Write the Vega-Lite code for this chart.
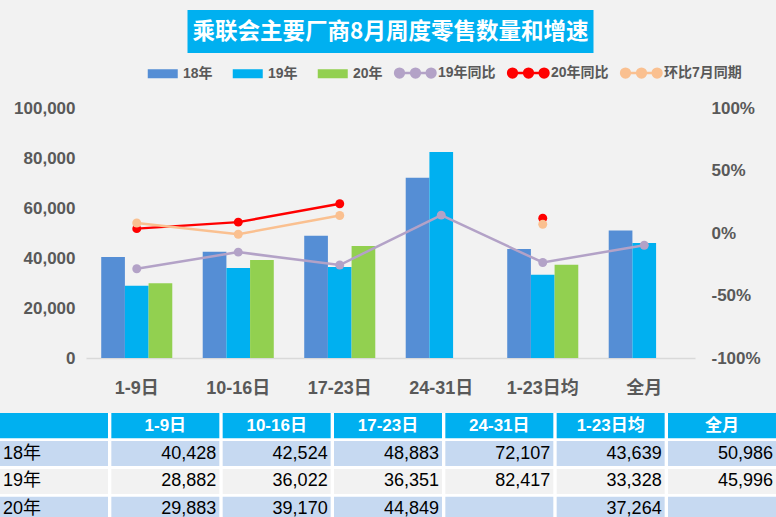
{
  "$schema": "https://vega.github.io/schema/vega-lite/v6.json",
  "background": "#f2f2f2",
  "padding": {"left": 0, "top": 10, "right": 0, "bottom": 0},
  "bounds": "flush",
  "center": true,
  "spacing": 55,
  "resolve": {"scale": {"color": "independent"}, "legend": {"color": "independent"}},
  "config": {
    "font": "Liberation Sans, Noto Sans CJK SC",
    "view": {"stroke": null},
    "axis": {
      "labelFont": "Liberation Sans, Noto Sans CJK SC",
      "labelColor": "#595959",
      "labelFontWeight": "bold",
      "ticks": false,
      "grid": false,
      "domain": false
    }
  },
  "datasets": {
    "bars": [
      {"series": "18年", "period": "1-9日", "value": 40428},
      {"series": "18年", "period": "10-16日", "value": 42524},
      {"series": "18年", "period": "17-23日", "value": 48883},
      {"series": "18年", "period": "24-31日", "value": 72107},
      {"series": "18年", "period": "1-23日均", "value": 43639},
      {"series": "18年", "period": "全月", "value": 50986},
      {"series": "19年", "period": "1-9日", "value": 28882},
      {"series": "19年", "period": "10-16日", "value": 36022},
      {"series": "19年", "period": "17-23日", "value": 36351},
      {"series": "19年", "period": "24-31日", "value": 82417},
      {"series": "19年", "period": "1-23日均", "value": 33328},
      {"series": "19年", "period": "全月", "value": 45996},
      {"series": "20年", "period": "1-9日", "value": 29883},
      {"series": "20年", "period": "10-16日", "value": 39170},
      {"series": "20年", "period": "17-23日", "value": 44849},
      {"series": "20年", "period": "1-23日均", "value": 37264}
    ],
    "lines": [
      {"series": "19年同比", "period": "1-9日", "pct": -28.6, "seg": "a"},
      {"series": "19年同比", "period": "10-16日", "pct": -15.3, "seg": "a"},
      {"series": "19年同比", "period": "17-23日", "pct": -25.6, "seg": "a"},
      {"series": "19年同比", "period": "24-31日", "pct": 14.3, "seg": "a"},
      {"series": "19年同比", "period": "1-23日均", "pct": -23.6, "seg": "a"},
      {"series": "19年同比", "period": "全月", "pct": -9.8, "seg": "a"},
      {"series": "20年同比", "period": "1-9日", "pct": 3.5, "seg": "a"},
      {"series": "20年同比", "period": "10-16日", "pct": 8.7, "seg": "a"},
      {"series": "20年同比", "period": "17-23日", "pct": 23.4, "seg": "a"},
      {"series": "20年同比", "period": "1-23日均", "pct": 11.8, "seg": "b"},
      {"series": "环比7月同期", "period": "1-9日", "pct": 8, "seg": "a"},
      {"series": "环比7月同期", "period": "10-16日", "pct": -1, "seg": "a"},
      {"series": "环比7月同期", "period": "17-23日", "pct": 14, "seg": "a"},
      {"series": "环比7月同期", "period": "1-23日均", "pct": 7, "seg": "b"}
    ],
    "grid": [
      {"row": "表头", "col": ["年份", "1-9日", "10-16日", "17-23日", "24-31日", "1-23日均", "全月"]},
      {"row": "18年", "col": ["年份", "1-9日", "10-16日", "17-23日", "24-31日", "1-23日均", "全月"]},
      {"row": "19年", "col": ["年份", "1-9日", "10-16日", "17-23日", "24-31日", "1-23日均", "全月"]},
      {"row": "20年", "col": ["年份", "1-9日", "10-16日", "17-23日", "24-31日", "1-23日均", "全月"]}
    ]
  },
  "vconcat": [
    {
      "width": 406,
      "height": 43,
      "view": {"fill": "#00b0f0", "stroke": null},
      "data": {"values": [{"title": "乘联会主要厂商8月周度零售数量和增速"}]},
      "mark": {"type": "text", "color": "white", "fontSize": 22.5, "fontWeight": "bold", "font": "Noto Sans CJK SC"},
      "encoding": {"text": {"field": "title", "type": "nominal"}}
    },
    {
      "width": 609,
      "height": 250,
      "layer": [
        {
          "data": {"name": "bars"},
          "mark": {"type": "bar"},
          "encoding": {
            "x": {
              "field": "period", "type": "nominal", "title": null,
              "scale": {"domain": ["1-9日", "10-16日", "17-23日", "24-31日", "1-23日均", "全月"], "paddingInner": 0.3, "paddingOuter": 0.15},
              "axis": {"labelAngle": 0, "labelFontSize": 18, "labelPadding": 21, "domain": true, "domainColor": "#d9d9d9", "domainWidth": 1.5}
            },
            "xOffset": {"field": "series", "type": "nominal", "scale": {"domain": ["18年", "19年", "20年"], "paddingInner": 0, "paddingOuter": 0}},
            "y": {
              "field": "value", "type": "quantitative", "title": null,
              "scale": {"domain": [0, 100000]},
              "axis": {"values": [0, 20000, 40000, 60000, 80000, 100000], "format": ",d", "labelFontSize": 17, "labelPadding": 11}
            },
            "color": {
              "field": "series", "type": "nominal",
              "scale": {"domain": ["18年", "19年", "20年", "19年同比", "20年同比", "环比7月同期"], "range": ["#558ed5", "#00b0f0", "#92d050", "#b3a2c7", "#ff0000", "#fac090"]},
              "legend": {
                "orient": "none", "legendX": 49, "legendY": -56.5, "direction": "horizontal", "columns": 6,
                "columnPadding": 7, "symbolSize": 1600, "labelOffset": 5, "title": null, "padding": 0,
                "labelFont": "Liberation Sans, Noto Sans CJK SC", "labelFontSize": 14, "labelFontWeight": "bold", "labelColor": "#595959",
                "symbolStrokeWidth": 2.5,
                "encode": {
                  "symbols": {
                    "update": {
                      "shape": {"signal": "indexof(['18年','19年','20年'], datum.value) >= 0 ? 'M-0.375,-0.1625H1V0.1625H-0.375Z' : 'M-0.8,0H1.2M-0.82,0a0.22,0.22 0 1,0 0.44,0a0.22,0.22 0 1,0 -0.44,0M-0.02,0a0.22,0.22 0 1,0 0.44,0a0.22,0.22 0 1,0 -0.44,0M0.76,0a0.22,0.22 0 1,0 0.44,0a0.22,0.22 0 1,0 -0.44,0'"},
                      "fill": {"scale": "color", "field": "value"},
                      "stroke": {"scale": "color", "field": "value"},
                      "strokeWidth": {"value": 2.5},
                      "opacity": {"value": 1},
                      "size": {"value": 1600}
                    }
                  }
                }
              }
            }
          }
        },
        {
          "data": {"name": "lines"},
          "mark": {"type": "line", "strokeWidth": 2.5, "point": {"filled": true, "size": 80, "opacity": 1}},
          "encoding": {
            "x": {
              "field": "period", "type": "nominal", "title": null,
              "scale": {"domain": ["1-9日", "10-16日", "17-23日", "24-31日", "1-23日均", "全月"], "paddingInner": 0.3, "paddingOuter": 0.15},
              "axis": {"labelAngle": 0, "labelFontSize": 18, "labelPadding": 21, "domain": true, "domainColor": "#d9d9d9", "domainWidth": 1.5}
            },
            "y": {
              "field": "pct", "type": "quantitative", "title": null,
              "scale": {"domain": [-100, 100]},
              "axis": {"orient": "right", "values": [-100, -50, 0, 50, 100], "labelExpr": "datum.value + '%'", "labelFontSize": 17, "labelPadding": 16}
            },
            "color": {
              "field": "series", "type": "nominal",
              "scale": {"domain": ["18年", "19年", "20年", "19年同比", "20年同比", "环比7月同期"], "range": ["#558ed5", "#00b0f0", "#92d050", "#b3a2c7", "#ff0000", "#fac090"]}
            },
            "detail": {"field": "seg", "type": "nominal"}
          }
        }
      ],
      "resolve": {"scale": {"y": "independent"}}
    },
    {
      "width": 781,
      "height": 109,
      "view": {"fill": "white", "stroke": null},
      "layer": [
        {
          "data": {"name": "grid"},
          "transform": [{"flatten": ["col"]}],
          "mark": {"type": "rect"},
          "encoding": {
            "x": {"field": "col", "type": "nominal", "axis": null, "scale": {"domain": ["年份", "1-9日", "10-16日", "17-23日", "24-31日", "1-23日均", "全月"], "paddingInner": 0.03, "paddingOuter": 0.0225, "align": 0}},
            "y": {"field": "row", "type": "nominal", "axis": null, "scale": {"domain": ["表头", "18年", "19年", "20年"], "paddingInner": 0.1, "paddingOuter": 0}},
            "fill": {"field": "row", "type": "nominal", "legend": null, "scale": {"domain": ["表头", "18年", "19年", "20年"], "range": ["#00b0f0", "#c6d9f1", "#f2f2f2", "#c6d9f1"]}}
          }
        },
        {
          "data": {"name": "grid"},
          "transform": [{"flatten": ["col"]}, {"filter": "datum.row == '表头' && datum.col != '年份'"}],
          "mark": {"type": "text", "color": "white", "fontSize": 17, "fontWeight": "bold", "font": "Liberation Sans, Noto Sans CJK SC"},
          "encoding": {
            "x": {"field": "col", "type": "nominal", "axis": null, "bandPosition": 0.5, "scale": {"domain": ["年份", "1-9日", "10-16日", "17-23日", "24-31日", "1-23日均", "全月"], "paddingInner": 0.03, "paddingOuter": 0.0225, "align": 0}},
            "y": {"field": "row", "type": "nominal", "axis": null, "scale": {"domain": ["表头", "18年", "19年", "20年"], "paddingInner": 0.1, "paddingOuter": 0}},
            "text": {"field": "col", "type": "nominal"}
          }
        },
        {
          "data": {"name": "grid"},
          "transform": [{"flatten": ["col"]}, {"filter": "datum.col == '年份' && datum.row != '表头'"}],
          "mark": {"type": "text", "color": "black", "fontSize": 18, "align": "left", "dx": 3, "font": "Liberation Sans, Noto Sans CJK SC"},
          "encoding": {
            "x": {"field": "col", "type": "nominal", "axis": null, "bandPosition": 0, "scale": {"domain": ["年份", "1-9日", "10-16日", "17-23日", "24-31日", "1-23日均", "全月"], "paddingInner": 0.03, "paddingOuter": 0.0225, "align": 0}},
            "y": {"field": "row", "type": "nominal", "axis": null, "scale": {"domain": ["表头", "18年", "19年", "20年"], "paddingInner": 0.1, "paddingOuter": 0}},
            "text": {"field": "row", "type": "nominal"}
          }
        },
        {
          "data": {"name": "bars"},
          "mark": {"type": "text", "color": "black", "fontSize": 18, "align": "right", "dx": -3, "font": "Liberation Sans, Noto Sans CJK SC"},
          "encoding": {
            "x": {"field": "period", "type": "nominal", "axis": null, "bandPosition": 1, "scale": {"domain": ["年份", "1-9日", "10-16日", "17-23日", "24-31日", "1-23日均", "全月"], "paddingInner": 0.03, "paddingOuter": 0.0225, "align": 0}},
            "y": {"field": "series", "type": "nominal", "axis": null, "scale": {"domain": ["表头", "18年", "19年", "20年"], "paddingInner": 0.1, "paddingOuter": 0}},
            "text": {"field": "value", "type": "quantitative", "format": ",d"}
          }
        }
      ]
    }
  ]
}
